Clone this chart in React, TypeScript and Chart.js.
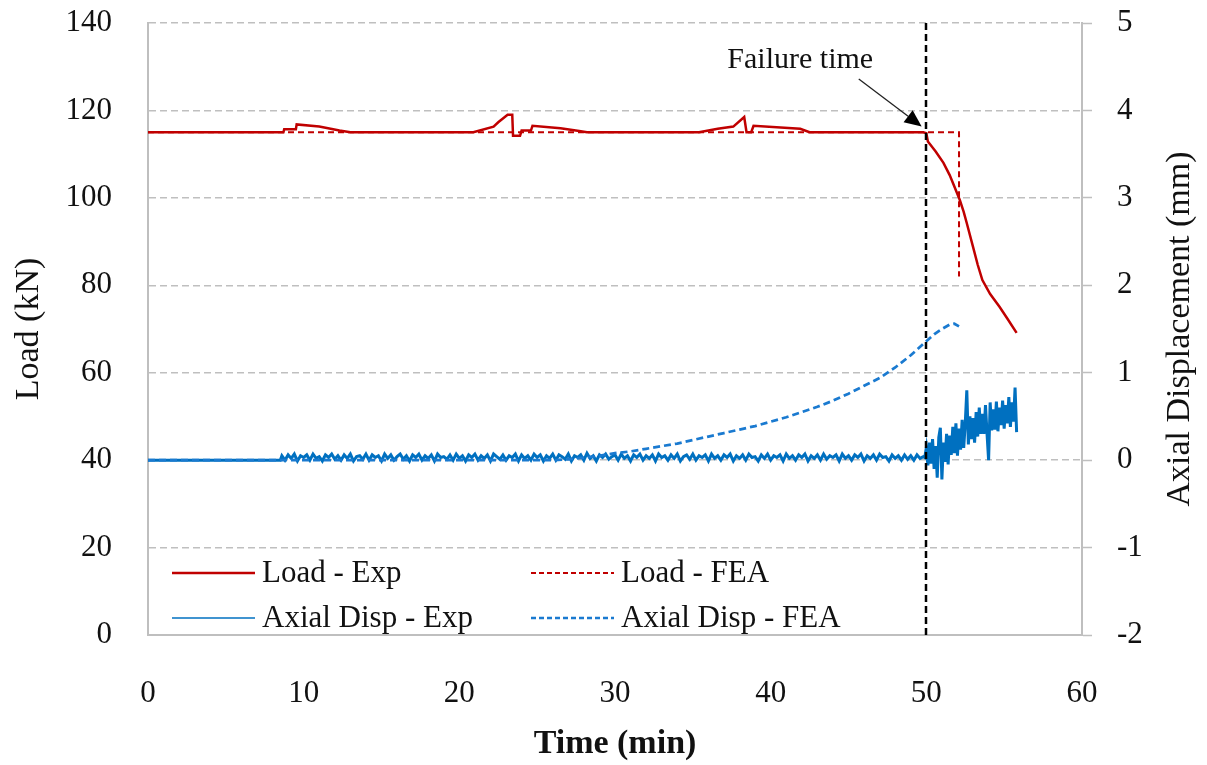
import React, { useEffect, useRef } from 'react';
import { Chart, registerables } from 'chart.js';

Chart.register(...registerables);

const FONT = "'Liberation Serif', 'Times New Roman', serif";

// ---------- data ----------
const xTickStep = 10;
const loadTickStep = 20;
const dispTickStep = 1;

// Load - Exp (time [min], load [kN])
const loadExpTime = [0, 8.7, 8.75, 9.5, 9.55, 11, 12.3, 13, 20.9, 22.2, 22.5, 23.1, 23.4, 23.45, 23.9, 24.0, 24.6, 24.7, 26.5, 27.7, 28.2, 35.4, 36.6, 37.6, 38.3, 38.45, 38.75, 38.9, 41.9, 42.5, 49.8, 50.0, 50.1, 50.6, 51.1, 51.5, 51.8, 52.15, 52.4, 52.6, 53.0, 53.3, 53.6, 54.1, 54.7, 55.2, 55.8];
const loadExpValue = [115, 115, 115.7, 115.7, 116.8, 116.3, 115.4, 115, 115, 116.3, 117.3, 119, 119, 114.2, 114.2, 115.4, 115.4, 116.5, 115.9, 115.3, 115, 115, 115.8, 116.3, 118.5, 115, 115, 116.5, 115.8, 115, 115, 114.8, 112.9, 110.6, 108, 105.2, 102.6, 99.5, 96.8, 94.2, 88.8, 84.7, 81.2, 78.0, 75.1, 72.4, 69.1];

// Load - FEA
const loadFeaTime = [0, 52.1, 52.1];
const loadFeaValue = [115, 115, 82];

// Axial Disp - FEA (mm)
const dispFeaTime = [0, 26, 27, 28, 29, 30, 31, 32, 33, 34, 35, 36, 37, 38, 39, 40, 41, 42, 43, 44, 45, 46, 47, 48, 49, 50, 50.5, 51, 51.5, 51.8, 52.1];
const dispFeaValue = [0, 0, 0.01, 0.03, 0.05, 0.08, 0.1, 0.13, 0.16, 0.19, 0.23, 0.27, 0.31, 0.35, 0.39, 0.44, 0.49, 0.55, 0.61, 0.68, 0.76, 0.85, 0.94, 1.06, 1.2, 1.36, 1.44, 1.5, 1.55, 1.56, 1.53];

// Axial Disp - Exp (mm): lead-in, then logged samples
const dispExpLeadTime = [0, 8.5];
const dispExpLeadValue = [0, 0];
const dispExpBandStart = 8.6;
const dispExpBandStep = 0.2;
const dispExpBandValue = [
  0.05, 0.00, 0.06, 0.02, 0.07, -0.01, 0.05, 0.03, 0.06, 0.00, 0.07, 0.02, 0.04, -0.01, 0.06, 0.03, 0.07, 0.01, 0.05, 0.00,
  0.06, 0.02, 0.07, -0.01, 0.04, 0.05, 0.01, 0.07, 0.00, 0.06, 0.03, 0.05, -0.01, 0.07, 0.02, 0.06, 0.00, 0.04, 0.07, 0.01,
  0.05, -0.01, 0.06, 0.03, 0.07, 0.00, 0.05, 0.02, 0.06, -0.01, 0.07, 0.03, 0.04, 0.01, 0.06, 0.00, 0.07, 0.02, 0.05, -0.01,
  0.06, 0.03, 0.07, 0.00, 0.05, 0.02, 0.06, -0.01, 0.07, 0.04, 0.01, 0.06, 0.00, 0.05, 0.03, 0.07, -0.01, 0.06, 0.02, 0.05,
  0.00, 0.07, 0.03, 0.06, -0.01, 0.05, 0.02, 0.07, 0.00, 0.06, 0.04, 0.01, 0.07, -0.01, 0.05, 0.03, 0.06, 0.00, 0.08, 0.02,
  0.05, -0.01, 0.06, 0.03, 0.07, 0.01, 0.04, 0.06, 0.00, 0.07, 0.02, 0.05, -0.01, 0.06, 0.03, 0.07, 0.00, 0.05, 0.02, 0.06,
  -0.01, 0.07, 0.03, 0.05, 0.00, 0.06, 0.02, 0.07, -0.01, 0.04, 0.06, 0.01, 0.07, 0.00, 0.05, 0.03, 0.06, -0.01, 0.07, 0.02,
  0.05, 0.00, 0.06, 0.03, 0.07, -0.01, 0.05, 0.02, 0.06, 0.00, 0.07, 0.03, 0.04, -0.01, 0.06, 0.02, 0.07, 0.00, 0.05, 0.03,
  0.06, -0.01, 0.07, 0.02, 0.05, 0.00, 0.06, 0.03, 0.07, -0.01, 0.05, 0.02, 0.06, 0.00, 0.07, 0.01, 0.05, 0.03, 0.06, -0.01,
  0.07, 0.02, 0.05, 0.00, 0.06, 0.03, 0.07, -0.01, 0.05, 0.02, 0.06, 0.00, 0.07, 0.03, 0.04, -0.01, 0.06, 0.02, 0.05, 0.00,
  0.06, 0.01, 0.05, 0.00, 0.06, 0.02, 0.04,
];
const dispExpTailStart = 49.9;
const dispExpTailStep = 0.1;
const dispExpTailValue = [
  0.03,
  0.14, -0.06, 0.2, -0.04, 0.24, -0.1, 0.16, -0.2, 0.26, 0.37,
  -0.22, 0.2, -0.02, 0.3, -0.05, 0.28, 0.06, 0.38, 0.08, 0.42,
  0.05, 0.36, 0.12, 0.46, 0.14, 0.42, 0.8, 0.18, 0.5, 0.24,
  0.48, 0.2, 0.55, 0.27, 0.6, 0.3, 0.53, 0.3, 0.63, 0.3,
  0.0, 0.66, 0.34, 0.58, 0.35, 0.67, 0.33, 0.6, 0.4, 0.68,
  0.36, 0.63, 0.42, 0.72, 0.38, 0.66, 0.44, 0.83, 0.32,
];

// Annotation (data units)
const failureTime = 50;
const failureLabel = 'Failure time';
const failureLabelPos = [41.9, 131.5];
const arrowTail = [45.66, 127.2];
const arrowTip = [49.7, 116.3];

const seriesNames = ['Load - Exp', 'Load - FEA', 'Axial Disp - Exp', 'Axial Disp - FEA'];

// ---------- styles ----------
const RED = '#C00000';
const BLUE = '#0070C0';
const BLUE_DASH = '#1A7AD0';
const GRID = '#BFBFBF';

function pairs(t: number[], v: number[]) {
  return t.map((x, i) => ({ x, y: v[i] }));
}
function sampled(start: number, step: number, v: number[]) {
  return v.map((y, i) => ({ x: +(start + i * step).toFixed(3), y }));
}
function noPad(s: any) {
  s.paddingTop = 0;
  s.paddingBottom = 0;
  s.paddingLeft = 0;
  s.paddingRight = 0;
}

const overlayPlugin = {
  id: 'overlay',
  afterDraw(chart: any) {
    const { ctx, chartArea, scales } = chart;
    const xs = scales.x;
    const yl = scales.y;
    ctx.save();
    // failure vertical line
    const fx = Math.round(xs.getPixelForValue(failureTime));
    ctx.strokeStyle = '#000';
    ctx.lineWidth = 2.5;
    ctx.setLineDash([7, 4]);
    ctx.beginPath();
    ctx.moveTo(fx, chartArea.top);
    ctx.lineTo(fx, chartArea.bottom);
    ctx.stroke();
    ctx.setLineDash([]);

    // arrow
    const tx = xs.getPixelForValue(arrowTail[0]);
    const ty = yl.getPixelForValue(arrowTail[1]);
    const hx = xs.getPixelForValue(arrowTip[0]);
    const hy = yl.getPixelForValue(arrowTip[1]);
    const ang = Math.atan2(hy - ty, hx - tx);
    const headLen = 17;
    const headW = 7.5;
    const bx = hx - headLen * Math.cos(ang);
    const by = hy - headLen * Math.sin(ang);
    ctx.strokeStyle = '#222';
    ctx.lineWidth = 1.3;
    ctx.beginPath();
    ctx.moveTo(tx, ty);
    ctx.lineTo(bx, by);
    ctx.stroke();
    ctx.fillStyle = '#000';
    ctx.beginPath();
    ctx.moveTo(hx, hy);
    ctx.lineTo(bx + headW * Math.sin(ang), by - headW * Math.cos(ang));
    ctx.lineTo(bx - headW * Math.sin(ang), by + headW * Math.cos(ang));
    ctx.closePath();
    ctx.fill();

    // label
    ctx.fillStyle = '#111';
    ctx.font = `30px ${FONT}`;
    ctx.textAlign = 'center';
    ctx.textBaseline = 'middle';
    ctx.fillText(failureLabel, xs.getPixelForValue(failureLabelPos[0]), yl.getPixelForValue(failureLabelPos[1]));

    // legend
    const items = [
      { c: RED, w: 2.5, d: [], col: 0, row: 0 },
      { c: RED, w: 2, d: [5, 3], col: 1, row: 0 },
      { c: BLUE, w: 1.5, d: [], col: 0, row: 1 },
      { c: BLUE_DASH, w: 2.5, d: [5, 3], col: 1, row: 1 },
    ];
    const colX = [chartArea.left + 24, chartArea.left + 383];
    const rowY = [chartArea.bottom - 62, chartArea.bottom - 17];
    ctx.font = `31px ${FONT}`;
    ctx.textAlign = 'left';
    items.forEach((it, i) => {
      const x0 = colX[it.col];
      const y0 = rowY[it.row];
      ctx.strokeStyle = it.c;
      ctx.lineWidth = it.w;
      ctx.setLineDash(it.d);
      ctx.beginPath();
      ctx.moveTo(x0, y0);
      ctx.lineTo(x0 + 83, y0);
      ctx.stroke();
      ctx.setLineDash([]);
      ctx.fillStyle = '#111';
      ctx.fillText(seriesNames[i], x0 + 90, y0 + 1);
    });

    // right axis title (reads bottom-to-top)
    ctx.translate(chart.width - 27, (chartArea.top + chartArea.bottom) / 2);
    ctx.rotate(-Math.PI / 2);
    ctx.font = `34px ${FONT}`;
    ctx.textAlign = 'center';
    ctx.textBaseline = 'middle';
    ctx.fillText('Axial Displacement (mm)', 0, 0);
    ctx.restore();
  },
};

export default function App() {
  const ref = useRef<HTMLCanvasElement | null>(null);
  useEffect(() => {
    if (!ref.current) return;
    Chart.defaults.font.family = FONT;
    Chart.defaults.color = '#111';
    const chart = new Chart(ref.current, {
      type: 'line',
      data: {
        datasets: [
          {
            label: seriesNames[0],
            data: pairs(loadExpTime, loadExpValue),
            borderColor: RED,
            borderWidth: 2.5,
            pointRadius: 0,
            yAxisID: 'y',
            order: 1,
          },
          {
            label: seriesNames[1],
            data: pairs(loadFeaTime, loadFeaValue),
            borderColor: RED,
            borderWidth: 2,
            borderDash: [6, 4],
            pointRadius: 0,
            yAxisID: 'y',
            order: 2,
          },
          {
            label: seriesNames[2],
            data: [
              ...pairs(dispExpLeadTime, dispExpLeadValue),
              ...sampled(dispExpBandStart, dispExpBandStep, dispExpBandValue),
              ...sampled(dispExpTailStart, dispExpTailStep, dispExpTailValue),
            ],
            borderColor: BLUE,
            borderWidth: 3,
            pointRadius: 0,
            yAxisID: 'y1',
            order: 4,
          },
          {
            label: seriesNames[3],
            data: pairs(dispFeaTime, dispFeaValue),
            borderColor: BLUE_DASH,
            borderWidth: 2.75,
            borderDash: [7, 4],
            pointRadius: 0,
            yAxisID: 'y1',
            order: 3,
          },
        ],
      },
      options: {
        responsive: false,
        animation: false,
        devicePixelRatio: 1,
        layout: { padding: { top: 23, left: 0, right: 0, bottom: 0 } },
        plugins: { legend: { display: false }, tooltip: { enabled: false } },
        scales: {
          x: {
            type: 'linear',
            min: 0,
            max: 60,
            ticks: { stepSize: xTickStep, padding: 32, font: { size: 31 }, color: '#111' },
            grid: { display: false },
            border: { display: true, color: GRID, width: 2 },
            title: { display: true, text: 'Time (min)', font: { size: 34, weight: 'bold' }, padding: { top: 0, bottom: 0 }, color: '#111' },
            afterFit: (s: any) => { s.height = 130; noPad(s); },
          },
          y: {
            type: 'linear',
            position: 'left',
            min: 0,
            max: 140,
            ticks: { stepSize: loadTickStep, padding: 36, font: { size: 31 }, color: '#111' },
            grid: { color: GRID, lineWidth: 1.5, drawTicks: false, drawOnChartArea: true },
            border: { display: true, color: GRID, width: 2, dash: [7, 4] },
            title: { display: true, text: 'Load (kN)', font: { size: 34 }, padding: { top: 9, bottom: 0 }, color: '#111' },
            afterFit: (s: any) => { s.width = 148; noPad(s); },
          },
          y1: {
            type: 'linear',
            position: 'right',
            min: -2,
            max: 5,
            ticks: { stepSize: dispTickStep, padding: 25, font: { size: 31 }, color: '#111' },
            grid: { drawOnChartArea: false, drawTicks: true, tickLength: 10, tickColor: GRID, tickWidth: 1.5, tickBorderDash: [] },
            border: { display: true, color: GRID, width: 2 },
            afterFit: (s: any) => { s.width = 125; noPad(s); },
          },
        },
      },
      plugins: [overlayPlugin],
    } as any);
    return () => chart.destroy();
  }, []);
  return (
    <div style={{ position: 'fixed', left: 0, top: 0, width: 1207, height: 765, background: '#fff' }}>
      <canvas ref={ref} width={1207} height={765} style={{ display: 'block', width: 1207, height: 765 }} />
    </div>
  );
}
